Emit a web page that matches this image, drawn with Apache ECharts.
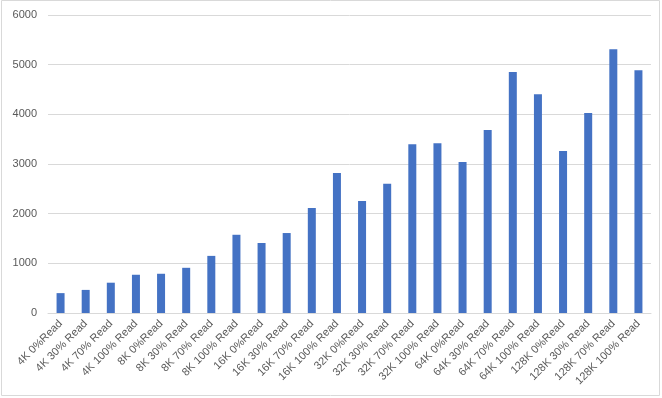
<!DOCTYPE html>
<html><head><meta charset="utf-8">
<script src="https://cdn.jsdelivr.net/npm/echarts@6/dist/echarts.min.js"></script>
<style>html,body{margin:0;padding:0;background:#fff}#c{width:662px;height:398px}</style>
</head><body><div id="c"></div>
<script>
const categories = ["4K 0%Read","4K 30% Read","4K 70% Read","4K 100% Read","8K 0%Read","8K 30% Read","8K 70% Read","8K 100% Read","16K 0%Read","16K 30% Read","16K 70% Read","16K 100% Read","32K 0%Read","32K 30% Read","32K 70% Read","32K 100% Read","64K 0%Read","64K 30% Read","64K 70% Read","64K 100% Read","128K 0%Read","128K 30% Read","128K 70% Read","128K 100% Read"];
const values = [400,465,610,770,790,910,1150,1575,1410,1610,2115,2820,2255,2600,3400,3420,3040,3685,4850,4405,3260,4025,5310,4890];
const yTicks = {min:0,max:6000,interval:1000};
const chart = echarts.init(document.getElementById('c'));
chart.setOption({
  animation:false,
  textStyle:{fontFamily:'Liberation Sans'},
  graphic:[{type:'rect',shape:{x:1.5,y:0.5,width:658,height:395},style:{fill:'none',stroke:'#d9d9d9',lineWidth:1},silent:true}],
  grid:{left:48,right:11,top:15,bottom:85},
  xAxis:{type:'category',data:categories,
    axisLine:{lineStyle:{color:'#d9d9d9'}},axisTick:{show:false},
    axisLabel:{rotate:45,interval:0,color:'#595959',fontSize:11,margin:9}},
  yAxis:{type:'value',min:yTicks.min,max:yTicks.max,interval:yTicks.interval,
    axisLine:{show:false},axisTick:{show:false},
    splitLine:{lineStyle:{color:'#d9d9d9'}},
    axisLabel:{color:'#595959',fontSize:11,margin:11,formatter:v=>String(v)}},
  series:[{type:'bar',data:values,barWidth:8,itemStyle:{color:'#4472c4'}}]
});
</script></body></html>
